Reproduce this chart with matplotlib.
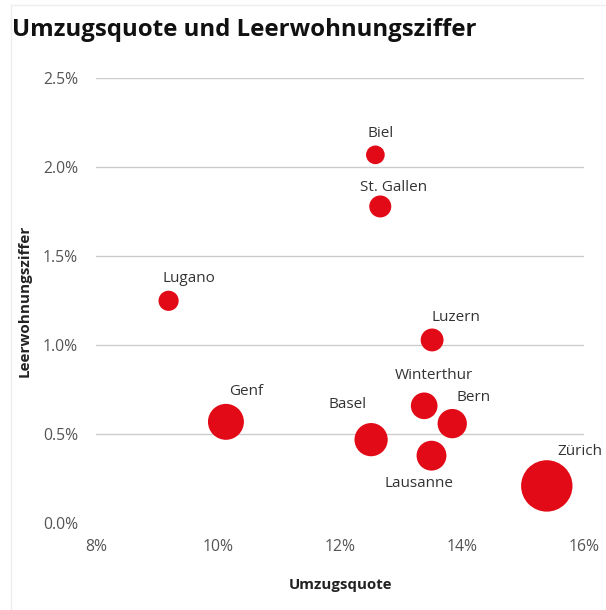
import numpy as np
import matplotlib.pyplot as plt
from matplotlib.lines import Line2D

# data
staedte = ['Biel', 'St. Gallen', 'Lugano', 'Genf', 'Luzern',
           'Winterthur', 'Bern', 'Basel', 'Lausanne', 'Zürich']
umzugsquote = [12.58, 12.66, 9.19, 10.13, 13.51, 13.38, 13.84, 12.51, 13.50, 15.39]
leerwohnungsziffer = [2.07, 1.78, 1.25, 0.57, 1.03, 0.66, 0.56, 0.47, 0.38, 0.21]
einwohner = [54, 75, 63, 200, 81, 110, 133, 171, 138, 409]  # thousands

# label offsets in pixels (dx, dy), relative to bubble centre
offsets = {
    'Biel': (5, 21), 'St. Gallen': (13, 19), 'Lugano': (20, 22),
    'Genf': (20, 30), 'Luzern': (24, 22), 'Winterthur': (10, 30),
    'Bern': (21, 26), 'Basel': (-24, 35), 'Lausanne': (-12, -28),
    'Zürich': (33, 34),
}

plt.rcParams['font.family'] = ['Open Sans', 'DejaVu Sans']

dpi = 100
fig = plt.figure(figsize=(6.06, 6.10), dpi=dpi)
ax = fig.add_axes([96 / 606, 86.7 / 610, 488 / 606, 445 / 610])

# bubble area proportional to population; Zürich ~51 px wide
diam_px = 51.4 * np.sqrt(np.array(einwohner) / max(einwohner))
sizes = (diam_px * 72 / dpi) ** 2

ax.scatter(umzugsquote, leerwohnungsziffer, s=sizes, color='#e20a17',
           edgecolors='none', zorder=3, clip_on=False)

for name, x, y in zip(staedte, umzugsquote, leerwohnungsziffer):
    dx, dy = offsets[name]
    ax.annotate(name, (x, y), xytext=(dx, dy), textcoords='offset pixels',
                ha='center', va='center', fontsize=11, color='#333333')

ax.set_xlim(8, 16)
ax.set_ylim(0, 2.5)
ax.set_xticks([8, 10, 12, 14, 16])
ax.set_xticklabels(['8%', '10%', '12%', '14%', '16%'])
ax.set_yticks([0, 0.5, 1.0, 1.5, 2.0, 2.5])
ax.set_yticklabels(['0.0%', '0.5%', '1.0%', '1.5%', '2.0%', '2.5%'])
ax.tick_params(length=0, labelsize=11.3, labelcolor='#555555')
ax.tick_params(axis='y', pad=13)
ax.tick_params(axis='x', pad=11)

for s in ax.spines.values():
    s.set_visible(False)
ax.yaxis.grid(True, color='#cccccc', linewidth=1)
ax.set_axisbelow(True)
ax.yaxis.get_gridlines()[0].set_visible(False)

ax.set_xlabel('Umzugsquote', fontsize=10.8, fontweight='bold',
              color='#222222', labelpad=17)
ax.set_ylabel('Leerwohnungsziffer', fontsize=11, fontweight='bold',
              color='#222222', labelpad=8)

fig.text(12 / 606, 1 - 30 / 610, 'Umzugsquote und Leerwohnungsziffer',
         fontsize=17.3, fontweight='bold', color='#111111', va='center')

# faint card border
fig.add_artist(Line2D([10.5 / 606, 1], [1 - 5 / 610, 1 - 5 / 610],
                      color='#eeeeee', linewidth=1))
fig.add_artist(Line2D([10.5 / 606, 10.5 / 606], [0, 1 - 5 / 610],
                      color='#eeeeee', linewidth=1))

fig.savefig('out.png', dpi=dpi)
